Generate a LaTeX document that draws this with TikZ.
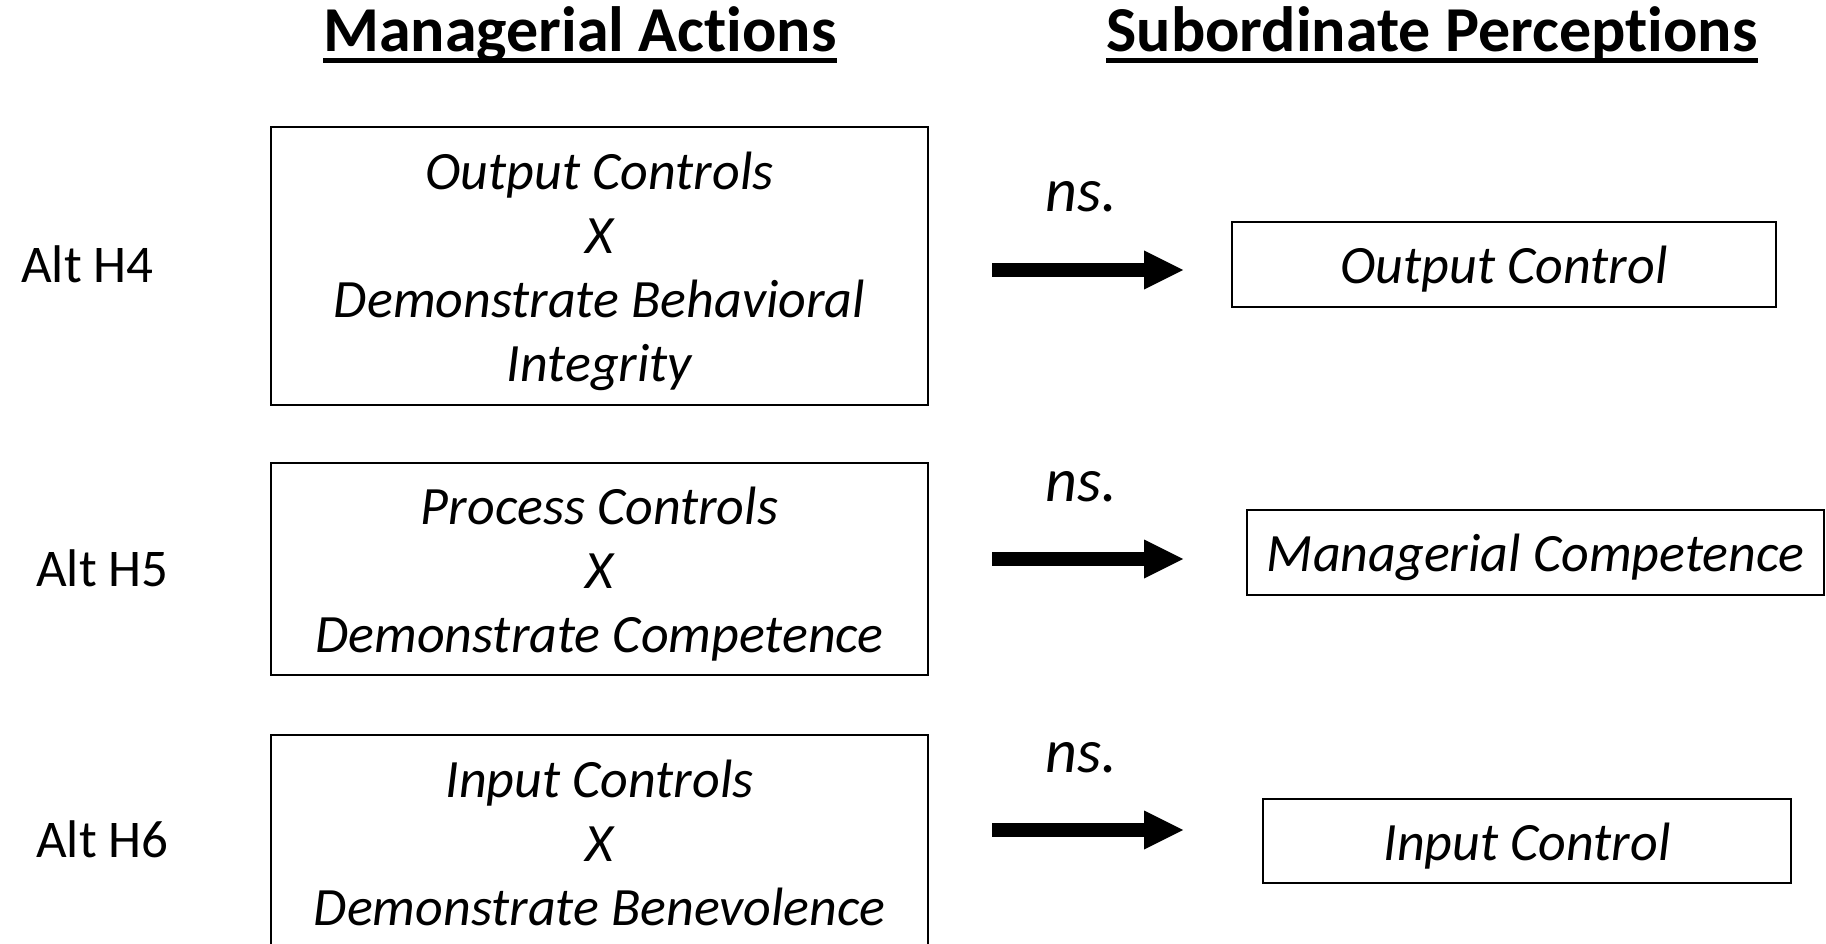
\documentclass[tikz,border=0pt]{standalone}
\usepackage{fontspec}
\setmainfont{Carlito}[Ligatures={NoCommon,NoDiscretionary,NoContextual}]
\usetikzlibrary{arrows.meta}
\newcommand\Tstrut{\rule{0pt}{52pt}}
\newcommand\Bstrut{\rule[-14pt]{0pt}{0pt}}
\begin{document}
\begin{tikzpicture}[x=1pt,y=-1pt,
  box/.style={draw,line width=2.2pt,inner sep=0pt,align=center,font=\fontsize{54}{64}\selectfont\itshape},
  alt/.style={anchor=base west,inner sep=0pt,font=\fontsize{53}{64}\selectfont},
  ttl/.style={anchor=base,inner sep=0pt,font=\fontsize{64}{70}\selectfont\bfseries},
  nslab/.style={anchor=base west,inner sep=0pt,font=\fontsize{62}{70}\selectfont\itshape},
  bigarrow/.style={line width=14pt,-{Triangle[length=39pt,width=39pt,line width=0pt]}},
  uline/.style={line width=5pt}]
\useasboundingbox (0,0) rectangle (1826,944);
\clip (0,0) rectangle (1826,944);
% titles
\node[ttl] (t1) at (580,52) {Managerial Actions};
\node[ttl] (t2) at (1432,52) {Subordinate Perceptions};
\draw[uline] ([yshift=-8.5pt]t1.base west) -- ([yshift=-8.5pt]t1.base east);
\draw[uline] ([yshift=-8.5pt]t2.base west) -- ([yshift=-8.5pt]t2.base east);
% row labels
\node[alt] (alt4) at (21,282) {Alt H4};
\node[alt] (alt5) at (36,586) {Alt H5};
\node[alt] (alt6) at (36,857) {Alt H6};
% left boxes
\node[box,minimum width=657pt,minimum height=278pt] (box1) at (599.5,266)
  {\Tstrut Output Controls\\X\\Demonstrate Behavioral\\Integrity\Bstrut};
\node[box,minimum width=657pt,minimum height=212pt] (box2) at (599.5,569)
  {\Tstrut Process Controls\\X\\Demonstrate Competence\Bstrut};
\node[box,minimum width=657pt,minimum height=215pt] (box3) at (599.5,842.5)
  {\Tstrut Input Controls\\X\\Demonstrate Benevolence\Bstrut};
% right boxes
\node[box,minimum width=544pt,minimum height=85pt] (out1) at (1504,264.5) {\Tstrut Output Control\Bstrut};
\node[box,minimum width=577pt,minimum height=85pt] (out2) at (1535.5,552.5) {\Tstrut Managerial Competence\Bstrut};
\node[box,minimum width=528pt,minimum height=84pt] (out3) at (1527,841) {\Tstrut Input Control\Bstrut};
% ns labels
\node[nslab] (ns1) at (1045,212) {ns.};
\node[nslab] (ns2) at (1045,501) {ns.};
\node[nslab] (ns3) at (1045,772) {ns.};
% arrows
\coordinate (a1s) at (992,270);
\coordinate (a1e) at (1183,270);
\coordinate (a2s) at (992,559);
\coordinate (a2e) at (1183,559);
\coordinate (a3s) at (992,830);
\coordinate (a3e) at (1183,830);
\draw[bigarrow] (a1s) -- (a1e);
\draw[bigarrow] (a2s) -- (a2e);
\draw[bigarrow] (a3s) -- (a3e);
\end{tikzpicture}
\end{document}
